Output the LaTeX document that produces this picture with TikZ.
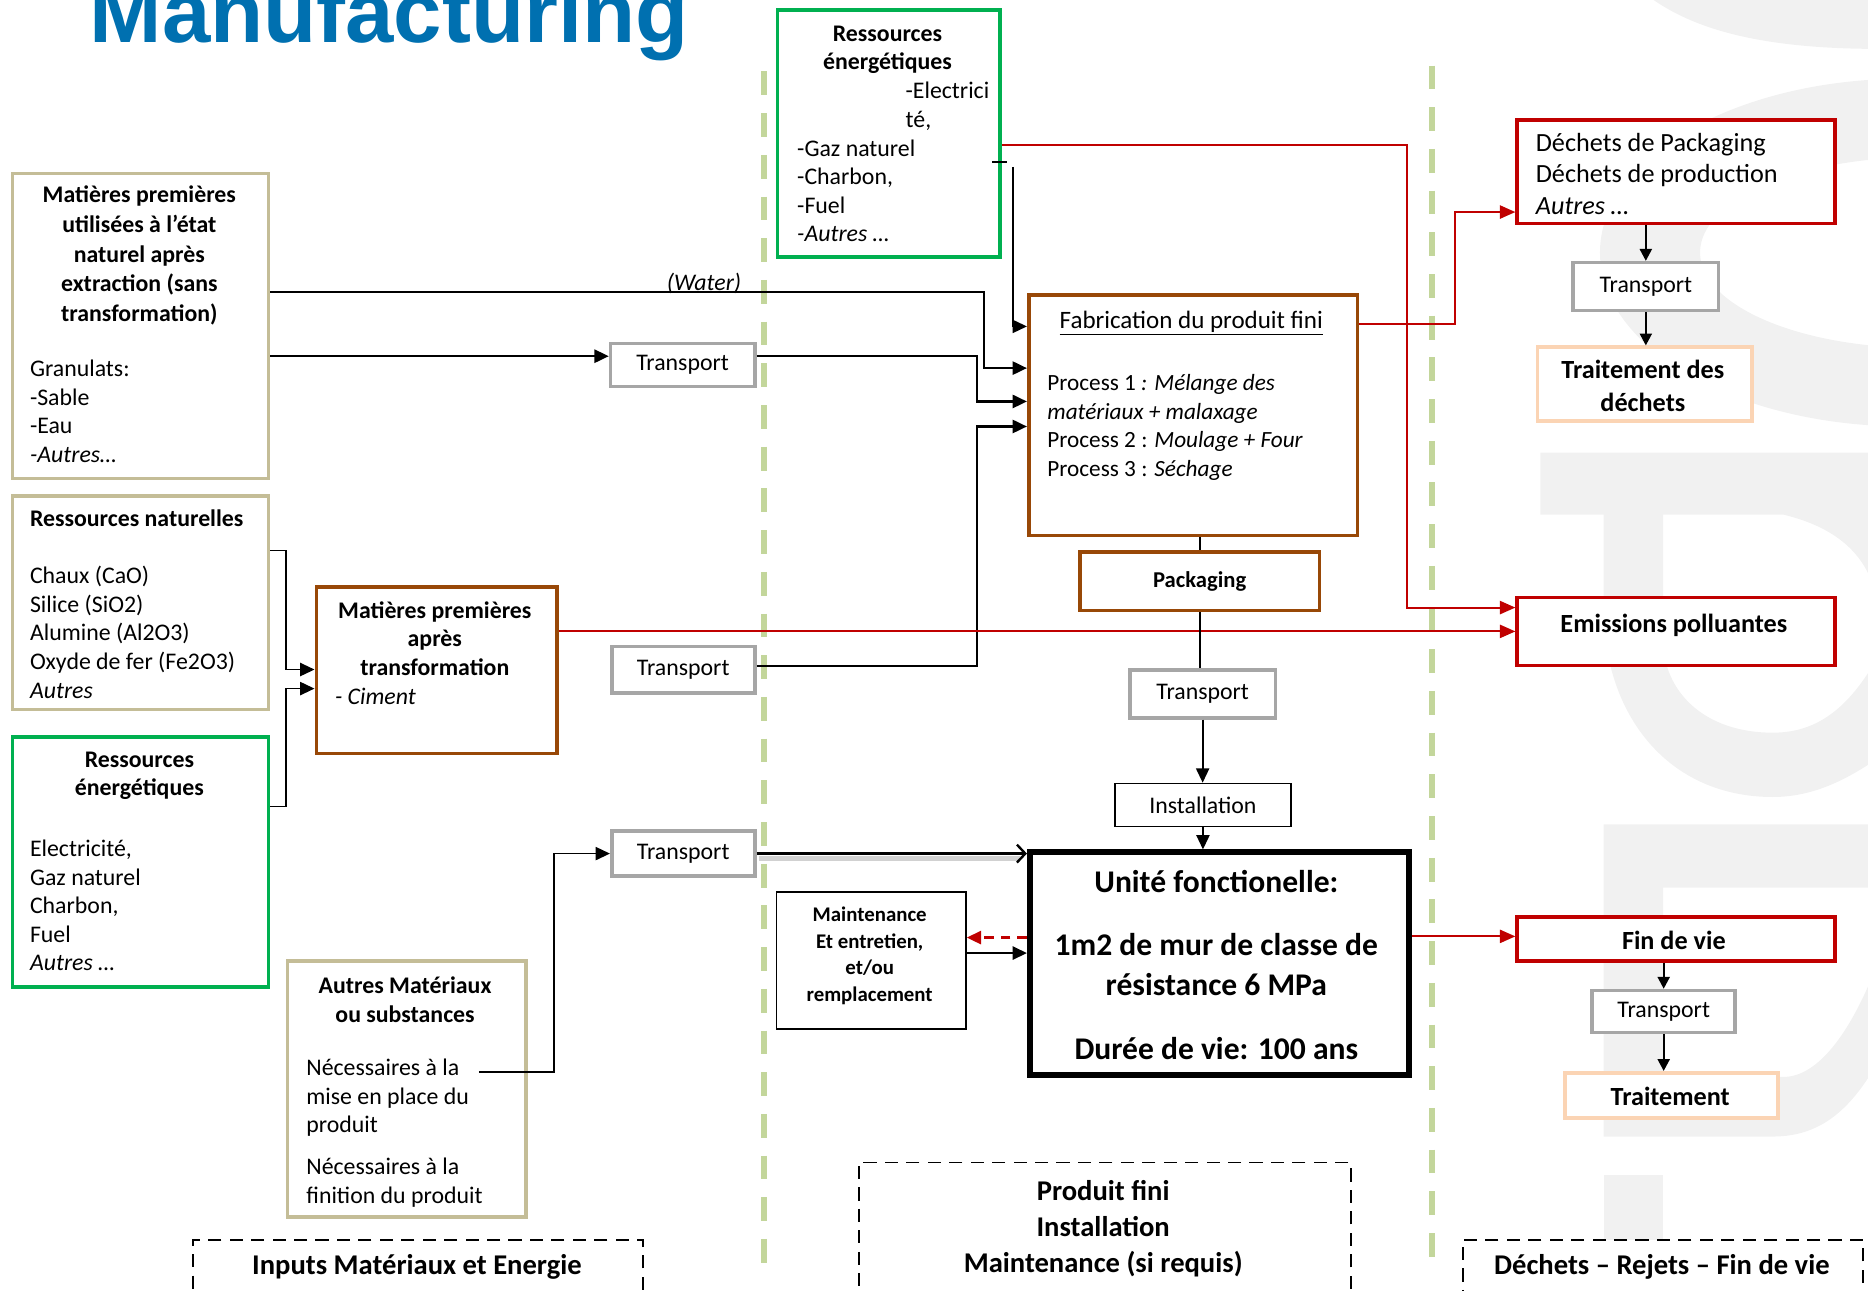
\documentclass[tikz,border=0pt]{standalone}
\usepackage{fontspec}
\setmainfont{Carlito}
\newfontfamily\ttlfont{Liberation Sans}
\usetikzlibrary{arrows.meta,calc}
\definecolor{tanc}{HTML}{C4BD97}
\definecolor{grn}{HTML}{00B050}
\definecolor{brn}{HTML}{984807}
\definecolor{rd}{HTML}{C00000}
\definecolor{gry}{HTML}{A6A6A6}
\definecolor{pch}{HTML}{FBD4B4}
\definecolor{lgrn}{HTML}{C3D69B}
\definecolor{ttl}{HTML}{0070B0}
\definecolor{wm}{HTML}{F1F1F1}
\newcommand\fsz[2]{\fontsize{#1}{#2}\selectfont}
\begin{document}
\begin{tikzpicture}[x=1pt,y=-1pt,
  bx/.style={draw=#1, fill=white, line width=3pt, inner sep=0pt, anchor=north west},
  txt/.style={inner sep=0pt, font=\fsz{20}{24}},
  btxt/.style={inner sep=0pt, font=\bfseries\fsz{20}{24}},
  ln/.style={line width=2pt},
  lnt/.style={line width=1.5pt},
  rl/.style={draw=rd, line width=1.8pt},
  arr/.style={-{Triangle[length=12pt,width=11pt]}},
  sarr/.style={-{Triangle[length=10pt,width=10pt]}},
  rarr/.style={-{Triangle[length=13pt,width=11pt]}},
  dbox/.style={draw, fill=white, line width=1.5pt, dash pattern=on 11pt off 7pt, inner sep=0pt, anchor=north west},
]
\useasboundingbox (0,0) rectangle (1568,1083);
% watermark
\begin{scope}
\clip (0,0) rectangle (1568,1083);
\fill[wm] (1388,0) .. controls (1420,22) and (1470,40) .. (1568,41) -- (1568,0) -- cycle;
\fill[wm, even odd rule] (1600,212) ellipse [x radius=257pt, y radius=146pt]
  (1612,212) ellipse [x radius=185pt, y radius=80pt];
\fill[wm, even odd rule] (1293,380) -- (1568,380) -- (1568,642) .. controls (1540,660) and (1515,669) .. (1488,669)
  .. controls (1400,669) and (1346,600) .. (1346,510) -- (1346,432) -- (1293,432) -- cycle
  (1396,432) -- (1497,432) .. controls (1530,440) and (1555,455) .. (1568,481) -- (1568,565)
  .. controls (1545,600) and (1520,615) .. (1488,615) .. controls (1430,615) and (1396,580) .. (1396,537) -- cycle;
\fill[wm, even odd rule] (1346,692) -- (1568,692) -- (1568,905) .. controls (1545,940) and (1520,954) .. (1488,954) -- (1346,954) -- cycle
  (1396,745) -- (1568,745) -- (1568,828) .. controls (1545,880) and (1520,904) .. (1497,904) -- (1396,904) -- cycle;
\fill[wm] (1346,986) rectangle (1396,1083);
\end{scope}
% title
\node[anchor=base west, inner sep=0pt, text=ttl, font=\ttlfont\bfseries\fsz{73}{80}] (title) at (75,36) {Manufacturing};
% separators
\draw[lgrn, line width=5pt, dash pattern=on 20pt off 15pt] (641,60) -- (641,1060);
\draw[lgrn, line width=5pt, dash pattern=on 20pt off 15pt] (1202,55) -- (1202,1060);
% ---- boxes
\node[bx=tanc, minimum width=215pt, minimum height=256pt] (A) at (9,144) {};
\node[btxt, font=\bfseries\fsz{20}{25}, align=center, anchor=base] (Atitle) at (117,270) {Matières premières\\utilisées à l’état\\naturel après\\extraction (sans\\transformation)};
\node[txt, align=left, anchor=base west] (Abody) at (25,388) {Granulats:\\-Sable\\-Eau\\\textit{-Autres…}};

\node[bx=tanc, minimum width=215pt, minimum height=179pt] (B) at (9,415) {};
\node[btxt, anchor=base west] (Btitle) at (25,442) {Ressources naturelles};
\node[txt, align=left, anchor=base west] (Bbody) at (25,586) {Chaux (CaO)\\Silice (SiO2)\\Alumine (Al2O3)\\Oxyde de fer (Fe2O3)\\\textit{Autres}};

\node[bx=grn, minimum width=215pt, minimum height=210pt] (C) at (9,617) {};
\node[btxt, align=center, anchor=base] (Ctitle) at (117,668) {Ressources\\énergétiques};
\node[txt, align=left, anchor=base west] (Cbody) at (25,815) {Electricité,\\Gaz naturel\\Charbon,\\Fuel\\\textit{Autres …}};

\node[bx=brn, minimum width=202pt, minimum height=140pt] (D) at (264,491) {};
\node[btxt, align=center, anchor=base] (Dtitle) at (365,567) {Matières premières\\après\\transformation};
\node[txt, anchor=base west] (Dbody) at (281,591) {\textit{- Ciment}};

\node[bx=tanc, minimum width=200pt, minimum height=215pt] (E) at (240,805) {};
\node[btxt, align=center, anchor=base] (Etitle) at (340,858) {Autres Matériaux\\ou substances};
\node[txt, align=left, anchor=base west] (Ebody) at (257,1010) {Nécessaires à la\\mise en place du\\produit\\[11pt]Nécessaires à la\\finition du produit};

\node[dbox, minimum width=378pt, minimum height=60pt] (IN) at (161,1040) {};
\node[btxt, font=\bfseries\fsz{24}{30}, anchor=base] (INt) at (350,1070) {Inputs Matériaux et Energie};

\node[bx=grn, minimum width=187pt, minimum height=207pt] (G) at (651,7) {};
\node[btxt, font=\bfseries\fsz{20}{23}, align=center, anchor=base] (Gtitle) at (745,58) {Ressources\\énergétiques};
\node[txt, align=left, anchor=base west] (Gbody) at (669,203) {\hspace*{91pt}-Electrici\\\hspace*{91pt}té,\\-Gaz naturel\\-Charbon,\\-Fuel\\\textit{-Autres …}};

\node[bx=brn, minimum width=276pt, minimum height=202pt] (F) at (862,246) {};
\node[txt, font=\fsz{21}{24}, anchor=base] (Ftitle) at (1000,276) {\underline{Fabrication du produit fini}};
\node[txt, font=\fsz{19.5}{24}, align=left, anchor=base west] (Fbody) at (879,400) {Process 1 \textit{: Mélange des}\\\textit{matériaux + malaxage}\\Process 2 : \textit{Moulage + Four}\\Process 3 : \textit{Séchage}};

\node[bx=brn, minimum width=201pt, minimum height=49pt, font=\bfseries\fsz{19}{23}] (P) at (905,462) {Packaging};

\node[bx=gry, minimum width=121pt, minimum height=36pt, font=\fsz{20}{24}] (T1) at (511,287) {Transport};
\node[bx=gry, minimum width=120pt, minimum height=39pt, font=\fsz{20}{24}] (T2) at (512,541) {Transport};
\node[bx=gry, minimum width=120pt, minimum height=38pt, font=\fsz{20}{24}] (T3) at (512,696) {Transport};
\node[bx=gry, minimum width=122pt, minimum height=40pt, font=\fsz{20}{24}] (T4) at (947,561) {Transport};
\node[bx=black, line width=1.5pt, minimum width=148pt, minimum height=36pt, font=\fsz{20}{24}] (I) at (935,657) {Installation};

\node[bx=black, line width=5pt, minimum width=318pt, minimum height=187pt] (U) at (862,713) {};
\node[btxt, font=\bfseries\fsz{26.5}{34}, align=center, anchor=base] (Ut) at (1021,889) {Unité fonctionelle:\\[19pt]1m2 de mur de classe de\\résistance 6 MPa\\[19pt]Durée de vie: 100 ans};

\node[bx=black, line width=1.5pt, minimum width=159pt, minimum height=115pt] (M) at (651,748) {};
\node[btxt, font=\bfseries\fsz{17.5}{22.6}, align=center, anchor=base] (Mt) at (730,841) {Maintenance\\Et entretien,\\et/ou\\remplacement};

\node[dbox, minimum width=413pt, minimum height=125pt] (PF) at (720,975) {};
\node[btxt, font=\bfseries\fsz{24}{30}, align=center, anchor=base] (PFt) at (926,1068) {Produit fini\\Installation\\Maintenance (si requis)};

\node[bx=rd, minimum width=267pt, minimum height=87pt] (W) at (1272,99) {};
\node[txt, font=\fsz{22}{26.5}, align=left, anchor=base west] (Wt) at (1289,180) {Déchets de Packaging\\Déchets de production\\\textit{Autres …}};
\node[bx=gry, minimum width=122pt, minimum height=40pt, font=\fsz{20}{24}] (T5) at (1319,219) {Transport};
\node[bx=pch, minimum width=180pt, minimum height=62pt] (TD) at (1289,290) {};
\node[btxt, font=\bfseries\fsz{22}{27}, align=center, anchor=base] (TDt) at (1379,345) {Traitement des\\déchets};

\node[bx=rd, minimum width=267pt, minimum height=57pt] (EM) at (1272,500) {};
\node[btxt, font=\bfseries\fsz{22}{27}, anchor=base] (EMt) at (1405,531) {Emissions polluantes};

\node[bx=rd, minimum width=267pt, minimum height=37pt] (FV) at (1272,768) {};
\node[btxt, font=\bfseries\fsz{22}{27}, anchor=base] (FVt) at (1405,797) {Fin de vie};
\node[bx=gry, minimum width=120pt, minimum height=35pt, font=\fsz{20}{24}] (T6) at (1335,830) {Transport};
\node[bx=pch, minimum width=179pt, minimum height=38pt] (TR) at (1312,899) {};
\node[btxt, font=\bfseries\fsz{22}{27}, anchor=base] (TRt) at (1402,928) {Traitement};

\node[dbox, minimum width=336pt, minimum height=60pt] (DR) at (1227,1040) {};
\node[btxt, font=\bfseries\fsz{24}{30}, anchor=base] (DRt) at (1395,1070) {Déchets – Rejets – Fin de vie};

\node[txt, anchor=base] (water) at (591,244) {\textit{(Water)}};

% ---- connectors
\draw[ln, arr] (A.east |- 0,245) -- (826,245) |- (F.west |- 0,309);
\draw[ln, arr] (A.east |- 0,299) -- (T1.west |- 0,299);
\draw[ln, arr] (T1.east |- 0,299) -- (820,299) |- (F.west |- 0,337);
\draw[ln, arr] (T2.east |- 0,559) -- (820,559) |- (F.west |- 0,358);
\coordinate (gt1) at (833,136);
\coordinate (gt2) at (845,136);
\coordinate (gs) at (850,140);
\draw[lnt] (gt1) -- (gt2);
\draw[lnt, arr] (gs) |- (F.west |- 0,274);
\draw[lnt, arr] (B.east |- 0,462) -- (240,462) |- (D.west |- 0,562);
\draw[lnt, arr] (C.east |- 0,677) -- (240,677) |- (D.west |- 0,578);
\draw[rl, rarr] (D.east |- 0,530) -- (EM.west |- 0,530);
\draw[rl, rarr] (G.east |- 0,122) -- (1181,122) |- (EM.west |- 0,510);
\draw[rl, rarr] (F.east |- 0,272) -- (1221,272) |- (W.west |- 0,178);
\draw[lnt] (P.north |- F.south) -- (P.north);
\draw[lnt] (P.south) -- (P.south |- T4.north);
\draw[lnt, arr] (T4.south) -- (T4.south |- I.north);
\draw[lnt, arr] (I.south) -- (I.south |- U.north);
\draw[black!18, line width=4pt] ($(T3.east)+(2,4)$) -- ($(U.west |- T3.east)+(-6,4)$);
\draw[ln, -{Straight Barb[length=7pt,width=15pt,line width=2pt]}] (T3.east) -- (U.west |- T3.east);
\coordinate (es) at (402,900);
\draw[lnt, arr] (es) -- (465,900) |- (T3.west);
\draw[rd, line width=2pt, dash pattern=on 8pt off 6pt, -{Triangle[length=12pt,width=11pt,sep=0pt]}] (U.west |- 0,787) -- (M.east |- 0,787);
\draw[ln, arr] (M.east |- 0,800) -- (U.west |- 0,800);
\draw[rl, rarr] (U.east |- 0,786) -- (FV.west |- 0,786);
\draw[ln, sarr] (T5.north |- W.south) -- (T5.north);
\draw[ln, sarr] (T5.south) -- (T5.south |- TD.north);
\draw[ln, sarr] (T6.north |- FV.south) -- (T6.north);
\draw[ln, sarr] (T6.south) -- (T6.south |- TR.north);
\end{tikzpicture}
\end{document}
